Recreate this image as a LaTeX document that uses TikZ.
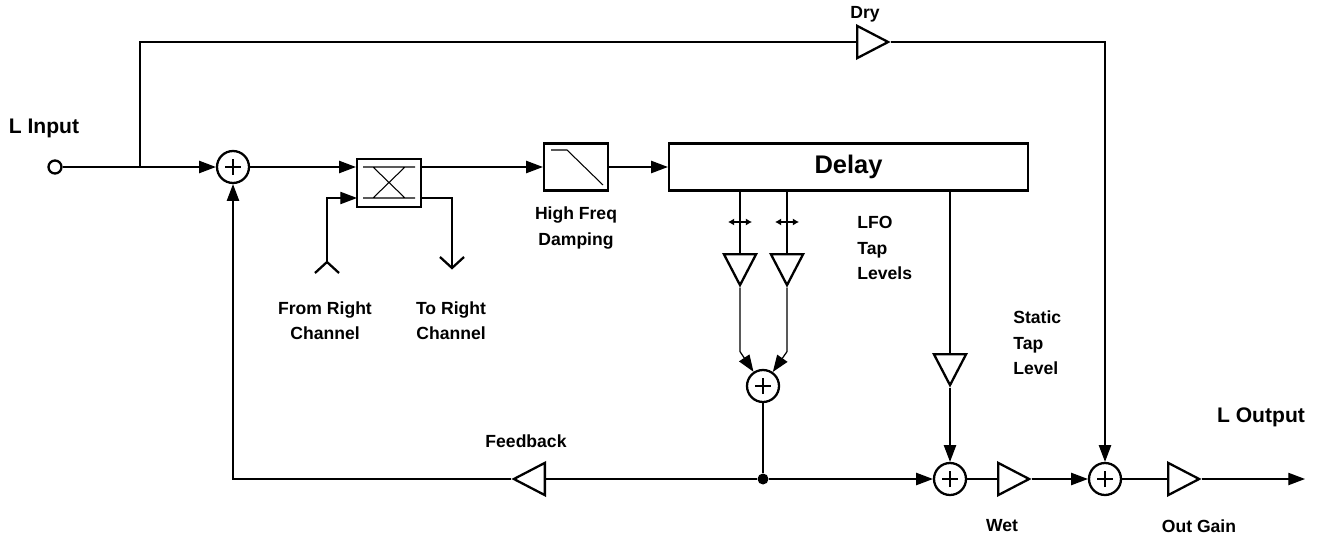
\documentclass[tikz,border=0pt]{standalone}
\usepackage{fontspec}
\setmainfont{Liberation Sans}
\usetikzlibrary{shapes.geometric,arrows.meta}
\begin{document}
\begin{tikzpicture}[x=0.02cm,y=-0.02cm]
        \tikzset{sum/.style = {shape=circle,draw,line width=1.3pt,minimum size=0.64cm,inner sep=0pt,
          path picture={\draw[line width=0.6pt] ([xshift=-0.16cm]path picture bounding box.center) -- ([xshift=0.16cm]path picture bounding box.center)
          ([yshift=-0.16cm]path picture bounding box.center) -- ([yshift=0.16cm]path picture bounding box.center);}}};
        \tikzset{amp/.style = {shape=isosceles triangle,draw,line width=1.3pt,isosceles triangle apex angle=55,
          minimum width=0.62cm,minimum height=0.62cm,inner sep=0pt,anchor=lower side}};
        \tikzset{blk/.style = {shape=rectangle,draw,line width=1.3pt,inner sep=0pt}};
        \tikzset{wire/.style = {line width=0.7pt}};
        \tikzset{sig/.style = {line width=0.7pt,-{Triangle[length=9.5pt,width=7pt]}}};
        \tikzset{lfoarr/.style = {line width=0.6pt,{Latex[length=3.5pt,width=4pt]}-{Latex[length=3.5pt,width=4pt]}}};
        \tikzset{lbl/.style = {font=\bfseries\fontsize{10}{14.4}\selectfont,align=center,inner sep=0pt}};
        \tikzset{biglbl/.style = {font=\bfseries\fontsize{12}{14}\selectfont,inner sep=0pt}};
        \useasboundingbox (0,0) rectangle (1318,537);
        \node[shape=circle,draw,line width=1.3pt,minimum size=0.26cm,inner sep=0pt] (inp) at (55,167) {};
        \node[biglbl] (inlbl) at (44,128) {L Input};
        \coordinate (br) at (140,167);
        \node[sum] (add1) at (233,167) {};
        \node[blk,minimum width=1.28cm,minimum height=0.96cm] (xover) at (389,183) {};
        \node[blk,minimum width=1.28cm,minimum height=0.94cm] (damp) at (576,167) {};
        \node[blk,minimum width=7.18cm,minimum height=0.94cm,font=\bfseries\fontsize{14.5}{16}\selectfont] (delay) at (848.5,167) {Delay};
        \node[amp] (dry) at (856,42) {};
        \node[amp,shape border rotate=270] (lfo1) at (740,253) {};
        \node[amp,shape border rotate=270] (lfo2) at (787,253) {};
        \node[sum] (add4) at (763,386) {};
        \node[shape=circle,fill=black,minimum size=0.22cm,inner sep=0pt] (dot) at (763,479) {};
        \node[amp,shape border rotate=180] (fb) at (546,479) {};
        \node[amp,shape border rotate=270] (stat) at (950,353) {};
        \node[sum] (add2) at (950,479) {};
        \node[amp] (wet) at (997,479) {};
        \node[sum] (add3) at (1105,479) {};
        \node[amp] (og) at (1167,479) {};
        \coordinate (out) at (1305,479);
        \coordinate (frm) at (327,262);
        \coordinate (xlo) at (357,198);
        \coordinate (xro) at (421,198);
        \coordinate (tor) at (452,268);
        \draw[wire] (inp) -- (br);
        \draw[sig] (br) -- (add1);
        \draw[sig] (add1) -- (add1 -| xover.west);
        \draw[sig] (add1 -| xover.east) -- (damp);
        \draw[sig] (damp) -- (delay);
        \draw[wire] (br) |- (dry.lower side);
        \draw[sig] (dry.apex) -| (add3);
        \draw[line width=0.6pt] (363,167) -- (415,167) (363,198) -- (415,198) (373,167) -- (405,198) (405,167) -- (373,198);
        \draw[line width=0.6pt] (551,150) -- (567,150) -- (603,185);
        \draw[sig] (frm) |- (xlo);
        \draw[line width=1.3pt] (315,273) -- (frm) -- (339,273);
        \draw[wire] (xro) -| (tor);
        \draw[line width=1.3pt] (440,257) -- (tor) -- (464,257);
        \draw[wire] (lfo1.lower side |- delay.south) -- (lfo1.lower side);
        \draw[wire] (lfo2.lower side |- delay.south) -- (lfo2.lower side);
        \foreach \x in {740,787} \draw[lfoarr] (\x-12,222) -- (\x+12,222);
        \draw[sig] (lfo1.apex) -- ++(0,64) -- (add4);
        \draw[sig] (lfo2.apex) -- ++(0,64) -- (add4);
        \draw[wire] (add4) -- (dot);
        \draw[sig] (dot) -- (add2);
        \draw[wire] (dot) -- (fb.lower side);
        \draw[sig] (fb.apex) -| (add1);
        \draw[wire] (stat.lower side |- delay.south) -- (stat.lower side);
        \draw[sig] (stat.apex) -- (add2);
        \draw[wire] (add2) -- (wet.lower side);
        \draw[sig] (wet.apex) -- (add3);
        \draw[wire] (add3) -- (og.lower side);
        \draw[sig] (og.apex) -- (out);
        \node[lbl] (frmlbl) at (325,321) {From Right\\Channel};
        \node[lbl] (torlbl) at (451,321) {To Right\\Channel};
        \node[lbl] (damplbl) at (576,228) {High Freq\\Damping};
        \node[lbl,align=left,anchor=west] (lfolbl) at (857,248) {LFO\\Tap\\Levels};
        \node[lbl,align=left,anchor=west] (statlbl) at (1013,343) {Static\\Tap\\Level};
        \node[lbl] (fblbl) at (526,441) {Feedback};
        \node[lbl] (drylbl) at (865,14) {Dry};
        \node[lbl] (wetlbl) at (1002,526) {Wet};
        \node[lbl] (oglbl) at (1199,526) {Out Gain};
        \node[biglbl] (outlbl) at (1261,417) {L Output};
\end{tikzpicture}
\end{document}
